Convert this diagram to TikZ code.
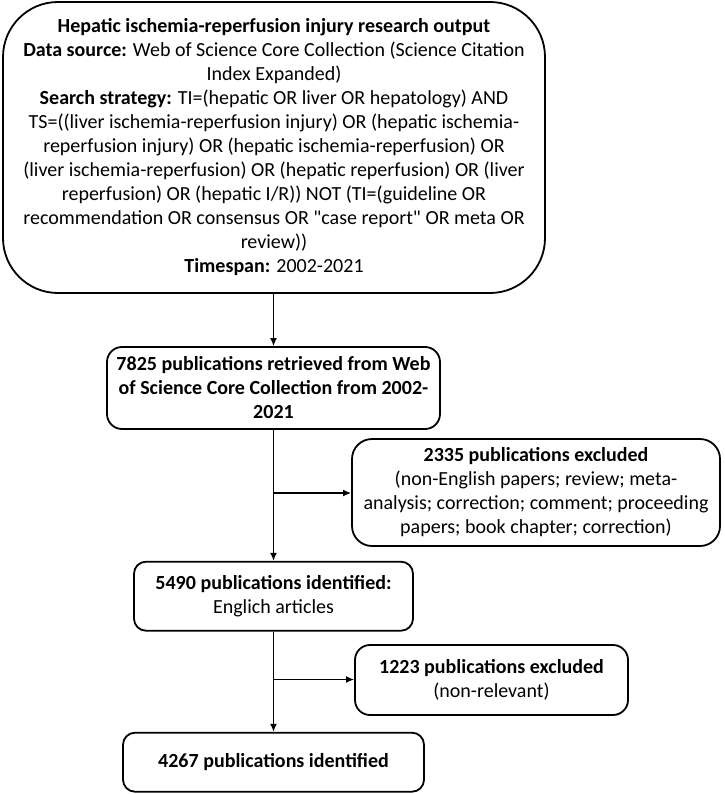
\documentclass[tikz,border=0pt]{standalone}
\usepackage{fontspec}
\setmainfont{Carlito}
\newfontfamily\plainq{Carlito}
\usetikzlibrary{arrows.meta}
\begin{document}
\begin{tikzpicture}[x=1pt,y=-1pt,
  box/.style={draw=black,line width=1.8pt,align=center,inner sep=0pt,
    font=\fontsize{20}{24}\selectfont},
  arr/.style={line width=1.5pt,-{Latex[length=8pt,width=7pt]}}]
\useasboundingbox (0,0) rectangle (724,794);
\node[box,rounded corners=55pt,minimum width=542pt,minimum height=291pt] (top) at (274,147.5)
 {\textbf{Hepatic ischemia-reperfusion injury research output}\\
  \textbf{Data source:} Web of Science Core Collection (Science Citation\\
  Index Expanded)\\
  \textbf{Search strategy:} TI=(hepatic OR liver OR hepatology) AND\\
  TS=((liver ischemia-reperfusion injury) OR (hepatic ischemia-\\
  reperfusion injury) OR (hepatic ischemia-reperfusion) OR\\
  (liver ischemia-reperfusion) OR (hepatic reperfusion) OR (liver\\
  reperfusion) OR (hepatic I/R)) NOT (TI=(guideline OR\\
  recommendation OR consensus OR {\plainq"}case report{\plainq"} OR meta OR\\
  review))\\
  \textbf{Timespan:} 2002-2021};
\node[box,rounded corners=15pt,minimum width=333pt,minimum height=82pt] (ret) at (273.5,388)
 {\textbf{7825 publications retrieved from Web}\\
  \textbf{of Science Core Collection from 2002-}\\
  \textbf{2021}};
\node[box,rounded corners=20pt,minimum width=368pt,minimum height=107pt] (ex1) at (536,492.5)
 {\textbf{2335 publications excluded}\\
  (non-English papers; review; meta-\\
  analysis; correction; comment; proceeding\\
  papers; book chapter; correction)};
\node[box,rounded corners=12pt,minimum width=279pt,minimum height=69pt] (id1) at (273.5,596.2)
 {\textbf{5490 publications identified:}\\
  Englich articles};
\node[box,rounded corners=15pt,minimum width=273pt,minimum height=70pt] (ex2) at (491.5,680)
 {\textbf{1223 publications excluded}\\
  (non-relevant)};
\node[box,rounded corners=12pt,minimum width=301pt,minimum height=59pt] (id2) at (273.5,762.2)
 {\textbf{4267 publications identified}};
\coordinate (b1) at (273.5,493);
\coordinate (b2) at (273.5,679.5);
\draw[arr] (top.south -| ret.north) -- (ret.north);
\draw[arr] (ret.south) -- (id1.north);
\draw[arr] (id1.south) -- (id2.north);
\draw[arr] (b1) -- (b1 -| ex1.west);
\draw[arr] (b2) -- (b2 -| ex2.west);
\end{tikzpicture}
\end{document}
